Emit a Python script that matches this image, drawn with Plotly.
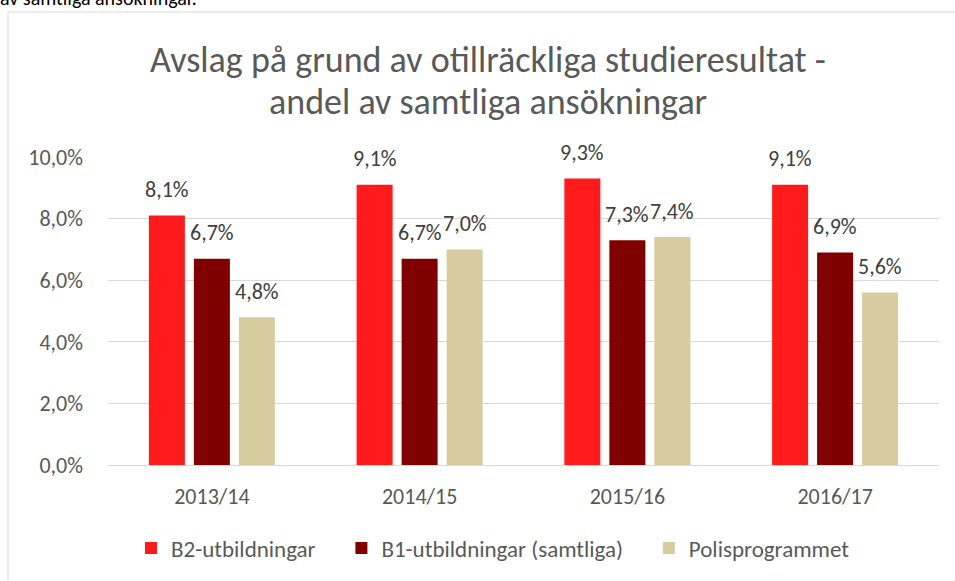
import plotly.graph_objects as go

categories = ["2013/14", "2014/15", "2015/16", "2016/17"]
series_names = ["B2-utbildningar", "B1-utbildningar (samtliga)", "Polisprogrammet"]
b2_values = [8.1, 9.1, 9.3, 9.1]
b1_values = [6.7, 6.7, 7.3, 6.9]
polis_values = [4.8, 7.0, 7.4, 5.6]
colors = ["#FF1B1B", "#800000", "#D7CBA0"]
y_ticks = [0, 2, 4, 6, 8, 10]

W, H = 955, 581
L, R, T, B = 108, 16, 157, 116
ph = H - T - B
pw = W - L - R

def px_to_py(py):
    return (H - B - py) / ph

def px_to_px(px):
    return (px - L) / pw

FONT = "Calibri, Carlito, Lato, sans-serif"
TXT = "#595959"
FS = 22
PAD = "\u00a0" * 4

fig = go.Figure()
all_vals = [b2_values, b1_values, polis_values]
for i, (name, vals, c) in enumerate(zip(series_names, all_vals, colors)):
    legend_name = name + (PAD if i < len(series_names) - 1 else "")
    fig.add_trace(go.Bar(x=categories, y=vals, name=legend_name, marker_color=c,
                         marker_line_width=0, hovertemplate=name + ": %{y}%<extra></extra>"))

bargap = 0.35
slot = (1 - bargap) / 3
annotations = []
for si, vals in enumerate(all_vals):
    for ci, v in enumerate(vals):
        annotations.append(dict(
            x=ci + (si - 1) * slot, y=v, xref="x", yref="y",
            text=f"{v:.1f}%".replace(".", ","), showarrow=False,
            yanchor="middle", yshift=26,
            font=dict(family=FONT, size=FS, color="#404040")))

annotations.append(dict(x=px_to_px(488), y=px_to_py(60), xref="paper", yref="paper",
                        text="Avslag på grund av otillräckliga studieresultat -",
                        showarrow=False, xanchor="center", yanchor="middle",
                        font=dict(family=FONT, size=36, color=TXT)))
annotations.append(dict(x=px_to_px(488), y=px_to_py(102), xref="paper", yref="paper",
                        text="andel av samtliga ansökningar",
                        showarrow=False, xanchor="center", yanchor="middle",
                        font=dict(family=FONT, size=36, color=TXT)))
annotations.append(dict(x=px_to_px(-2), y=px_to_py(-2), xref="paper", yref="paper",
                        text="av samtliga ansökningar.",
                        showarrow=False, xanchor="left", yanchor="middle",
                        font=dict(family=FONT, size=20, color="#000000")))

fig.add_shape(type="rect", xref="paper", yref="paper",
              x0=px_to_px(8), x1=px_to_px(970), y0=px_to_py(12), y1=px_to_py(600),
              line=dict(color="#D9D9D9", width=1), layer="below")

fig.update_layout(
    width=W, height=H,
    margin=dict(l=L, r=R, t=T, b=B, autoexpand=False),
    barmode="group", bargap=bargap, bargroupgap=0.2,
    separators=", ",
    plot_bgcolor="white", paper_bgcolor="white",
    annotations=annotations,
    showlegend=True,
    legend=dict(orientation="h", x=px_to_px(493), xanchor="center",
                y=px_to_py(548), yanchor="middle",
                font=dict(family=FONT, size=23, color=TXT),
                itemsizing="constant", traceorder="normal"),
    xaxis=dict(showgrid=False, showline=True, linecolor="#D9D9D9", linewidth=1,
               tickfont=dict(family=FONT, size=FS, color=TXT),
               ticks="", ticklabelstandoff=12),
    yaxis=dict(range=[0, 10], tickvals=y_ticks,
               ticktext=[f"{t:.1f}%".replace(".", ",") for t in y_ticks],
               showgrid=True, gridcolor="#D9D9D9", gridwidth=1,
               zeroline=False, showline=False, ticks="",
               tickfont=dict(family=FONT, size=FS, color=TXT),
               ticklabelstandoff=24),
)

fig.write_html("out.html", config={"displayModeBar": False},
               post_script="document.body.style.margin='0';document.body.style.overflow='hidden';")
